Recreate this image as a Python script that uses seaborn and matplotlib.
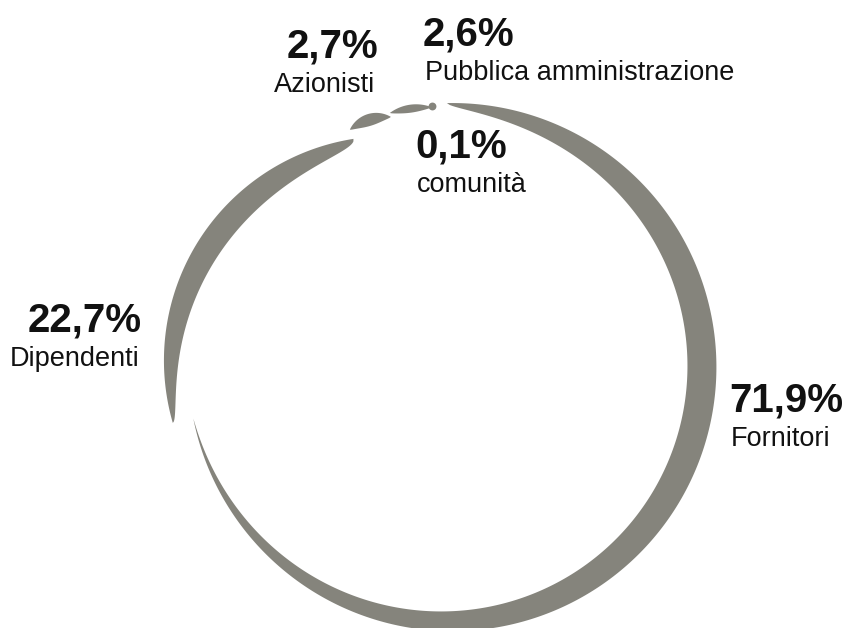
import numpy as np
import matplotlib
matplotlib.use("Agg")
import matplotlib.pyplot as plt
import seaborn as sns

# Distribution of generated value by stakeholder
categories = ["Fornitori", "Dipendenti", "Azionisti", "Pubblica amministrazione", "comunità"]
shares = [71.9, 22.7, 2.7, 2.6, 0.1]
share_labels = ["71,9%", "22,7%", "2,7%", "2,6%", "0,1%"]

RING = "#85847c"
TEXT = "#111111"
W, H = 846, 628
CX, CY = 440.0, 367.0          # ring centre (axes units = pixels)
START_DEG = 1.5                # first segment starts just right of 12 o'clock
SWEEP_DEG = 357.0              # leaves a small opening before the start

# brush-stroke look of each segment: radius at start tip, outer-edge radius at
# mid angle, radius at end tip, peak thickness and taper shape
stroke = {
    "Fornitori": dict(r0=264, rm=273.5, r1=252, width=29, skew=0.69, power=0.9),
    "Dipendenti": dict(r0=273, rm=272, r1=244, width=25, skew=1.2, power=0.5),
    "Azionisti": dict(r0=254, rm=263, r1=255, width=12, skew=1.0, power=0.8),
    "Pubblica amministrazione": dict(r0=259, rm=264, r1=260, width=8, skew=1.0, power=0.8),
}
DOT_R = 261

# label anchors: x, baseline of the percentage, alignment
label_pos = {
    "Fornitori": (729, 412, "left"),
    "Dipendenti": (142, 332, "right"),
    "Azionisti": (378, 58, "right"),
    "Pubblica amministrazione": (423, 46, "left"),
    "comunità": (415, 158, "left"),
}

sns.set_theme(style="white")
plt.rcParams["font.family"] = ["Liberation Sans", "DejaVu Sans"]


def direction(deg):
    a = np.radians(deg)
    return np.sin(a), -np.cos(a)


def point(deg, r):
    ux, uy = direction(deg)
    return np.array([CX + r * ux, CY + r * uy])


def circle_through(p1, p2, p3):
    ax_, ay_ = p1
    bx, by = p2
    cx, cy = p3
    d = 2 * (ax_ * (by - cy) + bx * (cy - ay_) + cx * (ay_ - by))
    ux = ((ax_**2 + ay_**2) * (by - cy) + (bx**2 + by**2) * (cy - ay_) + (cx**2 + cy**2) * (ay_ - by)) / d
    uy = ((ax_**2 + ay_**2) * (cx - bx) + (bx**2 + by**2) * (ax_ - cx) + (cx**2 + cy**2) * (bx - ax_)) / d
    centre = np.array([ux, uy])
    return centre, np.linalg.norm(np.array(p1) - centre)


def segment_polygon(a0, a1, r0, rm, r1, width, skew, power, n=400):
    am = 0.5 * (a0 + a1)
    centre, R = circle_through(point(a0, r0), point(am, rm), point(a1, r1))
    angles = np.linspace(a0, a1, n)
    ux, uy = direction(angles)
    ox, oy = CX - centre[0], CY - centre[1]
    b = ux * ox + uy * oy
    r_out = -b + np.sqrt(b**2 - (ox**2 + oy**2) + R**2)
    t = np.linspace(0, 1, n)
    prof = np.sin(np.pi * t**skew).clip(0) ** power
    r_in = r_out - width * prof
    xs = np.concatenate([CX + r_out * ux, (CX + r_in * ux)[::-1]])
    ys = np.concatenate([CY + r_out * uy, (CY + r_in * uy)[::-1]])
    return xs, ys


fig = plt.figure(figsize=(W / 100, H / 100), dpi=100)
ax = fig.add_axes([0, 0, 1, 1])
ax.set_xlim(0, W)
ax.set_ylim(H, 0)
ax.axis("off")

edges = START_DEG + SWEEP_DEG * np.concatenate([[0], np.cumsum(shares)]) / sum(shares)

for i, cat in enumerate(categories):
    a0, a1 = edges[i], edges[i + 1]
    if cat in stroke:
        xs, ys = segment_polygon(a0, a1, **stroke[cat])
        ax.fill(xs, ys, color=RING, lw=0, antialiased=True)
    else:
        px, py = point(0.5 * (a0 + a1), DOT_R)
        sns.scatterplot(x=[px], y=[py], s=32, color=RING, linewidth=0,
                        ax=ax, legend=False)

for cat, lab in zip(categories, share_labels):
    x, yb, ha = label_pos[cat]
    ax.text(x, yb, lab, ha=ha, va="baseline", fontsize=29,
            fontweight="bold", color=TEXT)
    ax.text(x + (2 if ha == "left" else -3), yb + 34, cat, ha=ha,
            va="baseline", fontsize=19.5, color=TEXT)

fig.savefig("out.png", dpi=100)
